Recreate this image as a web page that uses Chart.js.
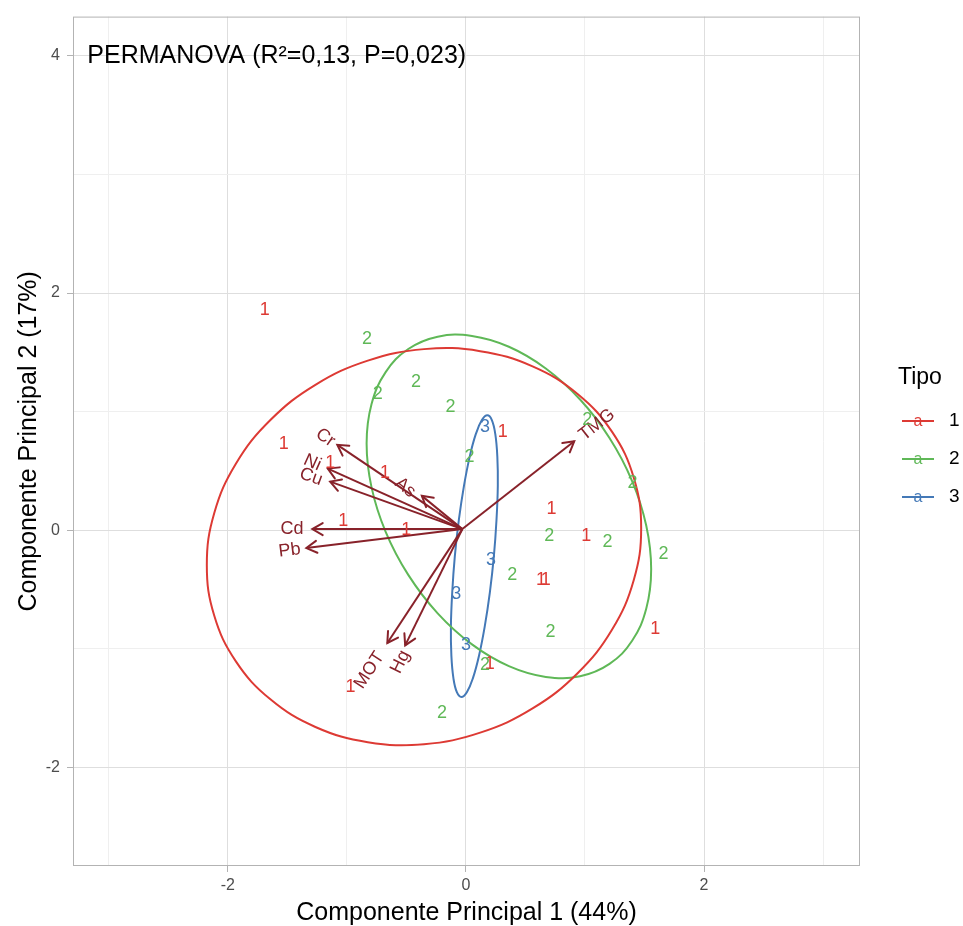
<!DOCTYPE html>
<html>
<head>
<meta charset="utf-8">
<title>PCA Tipo</title>
<style>
    body { margin: 0; background: #ffffff; }
    #wrap { width: 963px; height: 926px; }
</style>
</head>
<body>
<div id="wrap"><canvas id="graphPCA"></canvas></div>

<script src="https://cdn.jsdelivr.net/npm/chart.js"></script>
<script>
    // Scores per Tipo (PC1, PC2)
    const tipo1 = [
        [-1.69, 1.86], [-1.53, 0.73], [-1.14, 0.57], [-0.68, 0.48], [-1.03, 0.08],
        [-0.50, 0.00], [0.31, 0.83], [0.72, 0.18], [1.01, -0.05], [0.63, -0.42],
        [0.67, -0.42], [1.59, -0.83], [0.20, -1.13], [-0.97, -1.32]
    ];
    const tipo2 = [
        [-0.83, 1.61], [-0.42, 1.25], [-0.74, 1.15], [-0.13, 1.04], [0.03, 0.62],
        [1.02, 0.93], [1.40, 0.40], [0.70, -0.05], [1.19, -0.10], [1.66, -0.20],
        [0.39, -0.38], [0.71, -0.86], [0.16, -1.14], [-0.20, -1.54]
    ];
    const tipo3 = [
        [0.16, 0.87], [0.21, -0.25], [-0.08, -0.54], [0.00, -0.97]
    ];

    // Confidence ellipse outlines (closed loops)
    const ellipse1 = [
        [1.472, 0.017], [1.410, -0.419], [1.228, -0.837], [0.938, -1.205], [0.560, -1.502],
        [0.120, -1.706], [-0.352, -1.803], [-0.824, -1.786], [-1.264, -1.658], [-1.642, -1.425],
        [-1.932, -1.105], [-2.114, -0.719], [-2.176, -0.293], [-2.114, 0.143], [-1.932, 0.561],
        [-1.642, 0.929], [-1.264, 1.226], [-0.824, 1.430], [-0.352, 1.527], [0.120, 1.510],
        [0.560, 1.382], [0.938, 1.149], [1.228, 0.829], [1.410, 0.443]
    ];
    const ellipse2 = [
        [1.556, -0.329], [1.515, -0.660], [1.396, -0.931], [1.206, -1.126], [0.959, -1.230],
        [0.671, -1.236], [0.361, -1.145], [0.051, -0.962], [-0.237, -0.700], [-0.484, -0.376],
        [-0.674, -0.013], [-0.793, 0.364], [-0.834, 0.731], [-0.793, 1.062], [-0.674, 1.333],
        [-0.484, 1.528], [-0.237, 1.632], [0.051, 1.638], [0.361, 1.547], [0.671, 1.364],
        [0.959, 1.102], [1.206, 0.778], [1.396, 0.415], [1.515, 0.038]
    ];
    const ellipse3 = [
        [0.235, -0.218], [0.201, -0.525], [0.158, -0.812], [0.110, -1.057], [0.059, -1.246],
        [0.008, -1.365], [-0.038, -1.405], [-0.076, -1.365], [-0.105, -1.246], [-0.122, -1.057],
        [-0.126, -0.812], [-0.115, -0.525], [-0.093, -0.218], [-0.059, 0.089], [-0.016, 0.376],
        [0.032, 0.621], [0.083, 0.810], [0.134, 0.929], [0.180, 0.969], [0.218, 0.929],
        [0.247, 0.810], [0.264, 0.621], [0.268, 0.376], [0.257, 0.089]
    ];

    // Loadings: arrow tips and label positions
    const loadingNames = ['Cr', 'Ni', 'Cu', 'As', 'Cd', 'Pb', 'TMG', 'MOT', 'Hg'];
    const loadingTipX = [-1.08, -1.16, -1.14, -0.37, -1.29, -1.34, 0.91, -0.66, -0.51];
    const loadingTipY = [0.72, 0.52, 0.41, 0.29, 0.01, -0.15, 0.75, -0.95, -0.97];
    const labelX = [-1.18, -1.29, -1.30, -0.51, -1.46, -1.48, 1.10, -0.81, -0.55];
    const labelY = [0.78, 0.57, 0.45, 0.36, 0.01, -0.17, 0.89, -1.18, -1.11];
    const origin = [-0.03, 0.01];

    const tipoLabels = ['1', '2', '3'];
    const tipoColors = ['#dd3a34', '#5fb857', '#4479b7'];
    const arrowColor = '#88222a';
    const FONT = '"Liberation Sans", Arial, sans-serif';

    const toXY = arr => arr.map(p => ({ x: p[0], y: p[1] }));

    // wrap a loop with one extra point on each side so the spline has
    // neighbours at the seam; the two padding segments are hidden
    function closedLoop(arr) {
        const n = arr.length;
        return toXY([arr[n - 1], ...arr, arr[0], arr[1]]);
    }

    const datasets = [];

    loadingNames.forEach((name, i) => {
        datasets.push({
            label: name,
            data: [{ x: origin[0], y: origin[1] }, { x: loadingTipX[i], y: loadingTipY[i] }],
            showLine: true,
            borderColor: arrowColor,
            borderWidth: 2,
            pointRadius: 0,
            isArrow: true,
            arrowLabel: { x: labelX[i], y: labelY[i] },
            order: 0
        });
    });

    [ellipse1, ellipse2, ellipse3].forEach((e, i) => {
        const n = e.length;
        datasets.push({
            label: 'elipse ' + tipoLabels[i],
            data: closedLoop(e),
            showLine: true,
            tension: 0.4,
            borderColor: tipoColors[i],
            borderWidth: 2,
            pointRadius: 0,
            segment: {
                borderColor: c => (c.p0DataIndex === 0 || c.p0DataIndex === n + 1) ? 'rgba(0,0,0,0)' : tipoColors[i]
            },
            order: 1
        });
    });

    [tipo1, tipo2, tipo3].forEach((pts, i) => {
        datasets.push({
            label: tipoLabels[i],
            data: toXY(pts),
            pointRadius: 0,
            textMark: tipoLabels[i],
            textColor: tipoColors[i],
            order: 2
        });
    });

    const isMajor = v => Math.round(v) % 2 === 0;

    function axisOptions(min, max, pad) {
        return {
            type: 'linear',
            min: min,
            max: max,
            ticks: {
                stepSize: 1,
                includeBounds: false,
                padding: pad,
                color: '#4d4d4d',
                font: { family: FONT, size: 16 },
                callback: v => isMajor(v) ? String(Math.round(v)) : ''
            },
            grid: {
                color: c => isMajor(c.tick.value) ? '#dedede' : '#efefef',
                lineWidth: 1,
                tickLength: 6,
                tickColor: c => isMajor(c.tick.value) ? '#b3b3b3' : 'rgba(0,0,0,0)'
            },
            border: { display: false }
        };
    }

    const xAxis = axisOptions(-3.3, 3.31, 4);
    xAxis.afterFit = s => { s.height = 60; };
    const yAxis = axisOptions(-2.83, 4.33, 7);
    yAxis.afterFit = s => { s.width = 73; };

    // Text marks, arrow heads, loading labels, panel border, titles and legend
    const biplotDecor = {
        id: 'biplotDecor',
        afterDatasetsDraw(chart) {
            const ctx = chart.ctx;
            const sx = chart.scales.x, sy = chart.scales.y;
            ctx.save();

            chart.data.datasets.forEach((ds, di) => {
                const meta = chart.getDatasetMeta(di);
                if (ds.textMark) {
                    ctx.fillStyle = ds.textColor;
                    ctx.font = '18px ' + FONT;
                    ctx.textAlign = 'center';
                    ctx.textBaseline = 'middle';
                    meta.data.forEach(el => ctx.fillText(ds.textMark, el.x, el.y));
                }
                if (ds.isArrow) {
                    const a = meta.data[0], b = meta.data[1];
                    const ang = Math.atan2(b.y - a.y, b.x - a.x);
                    const len = 12, spread = Math.PI / 6;
                    ctx.strokeStyle = arrowColor;
                    ctx.lineWidth = 2;
                    ctx.lineCap = 'round';
                    ctx.beginPath();
                    ctx.moveTo(b.x - len * Math.cos(ang - spread), b.y - len * Math.sin(ang - spread));
                    ctx.lineTo(b.x, b.y);
                    ctx.lineTo(b.x - len * Math.cos(ang + spread), b.y - len * Math.sin(ang + spread));
                    ctx.stroke();

                    // label along the arrow direction
                    let rot = ang;
                    if (rot > Math.PI / 2) rot -= Math.PI;
                    if (rot < -Math.PI / 2) rot += Math.PI;
                    const lx = sx.getPixelForValue(ds.arrowLabel.x);
                    const ly = sy.getPixelForValue(ds.arrowLabel.y);
                    ctx.save();
                    ctx.translate(lx, ly);
                    ctx.rotate(rot);
                    ctx.fillStyle = arrowColor;
                    ctx.font = '18px ' + FONT;
                    ctx.textAlign = 'center';
                    ctx.textBaseline = 'middle';
                    ctx.fillText(ds.label, 0, 0);
                    ctx.restore();
                }
            });

            const area = chart.chartArea;
            ctx.strokeStyle = '#b3b3b3';
            ctx.lineWidth = 1;
            ctx.strokeRect(area.left + 0.5, area.top + 0.5, area.right - area.left - 1, area.bottom - area.top - 1);
            ctx.restore();
        },
        afterDraw(chart) {
            const ctx = chart.ctx;
            const area = chart.chartArea;
            const sx = chart.scales.x, sy = chart.scales.y;
            ctx.save();
            ctx.fillStyle = '#000000';

            // PERMANOVA note
            ctx.font = '25px ' + FONT;
            ctx.textAlign = 'left';
            ctx.textBaseline = 'middle';
            ctx.fillText('PERMANOVA (R²=0,13, P=0,023)', sx.getPixelForValue(-3.18), sy.getPixelForValue(4));

            // axis titles
            ctx.textAlign = 'center';
            ctx.fillText('Componente Principal 1 (44%)', (area.left + area.right) / 2, 913);
            ctx.save();
            ctx.translate(29, (area.top + area.bottom) / 2);
            ctx.rotate(-Math.PI / 2);
            ctx.fillText('Componente Principal 2 (17%)', 0, 0);
            ctx.restore();

            // legend
            const lx = area.right + 38;
            ctx.textAlign = 'left';
            ctx.font = '23px ' + FONT;
            ctx.fillText('Tipo', lx, 378);
            tipoLabels.forEach((t, i) => {
                const y = 421 + i * 38;
                ctx.strokeStyle = tipoColors[i];
                ctx.lineWidth = 2;
                ctx.beginPath();
                ctx.moveTo(lx + 4, y);
                ctx.lineTo(lx + 36, y);
                ctx.stroke();
                ctx.fillStyle = tipoColors[i];
                ctx.font = '16px ' + FONT;
                ctx.textAlign = 'center';
                ctx.fillText('a', lx + 20, y + 1);
                ctx.fillStyle = '#000000';
                ctx.font = '19px ' + FONT;
                ctx.textAlign = 'left';
                ctx.fillText(t, lx + 51, y);
            });
            ctx.restore();
        }
    };

    const chart = new Chart(document.getElementById('graphPCA'), {
        type: 'scatter',
        data: { datasets: datasets },
        options: {
            responsive: true,
            maintainAspectRatio: false,
            animation: false,
            layout: { padding: { top: 14, right: 103, left: 0, bottom: 0 } },
            scales: { x: xAxis, y: yAxis },
            plugins: {
                legend: { display: false },
                tooltip: { enabled: false }
            }
        },
        plugins: [biplotDecor]
    });
</script>
</body>
</html>
